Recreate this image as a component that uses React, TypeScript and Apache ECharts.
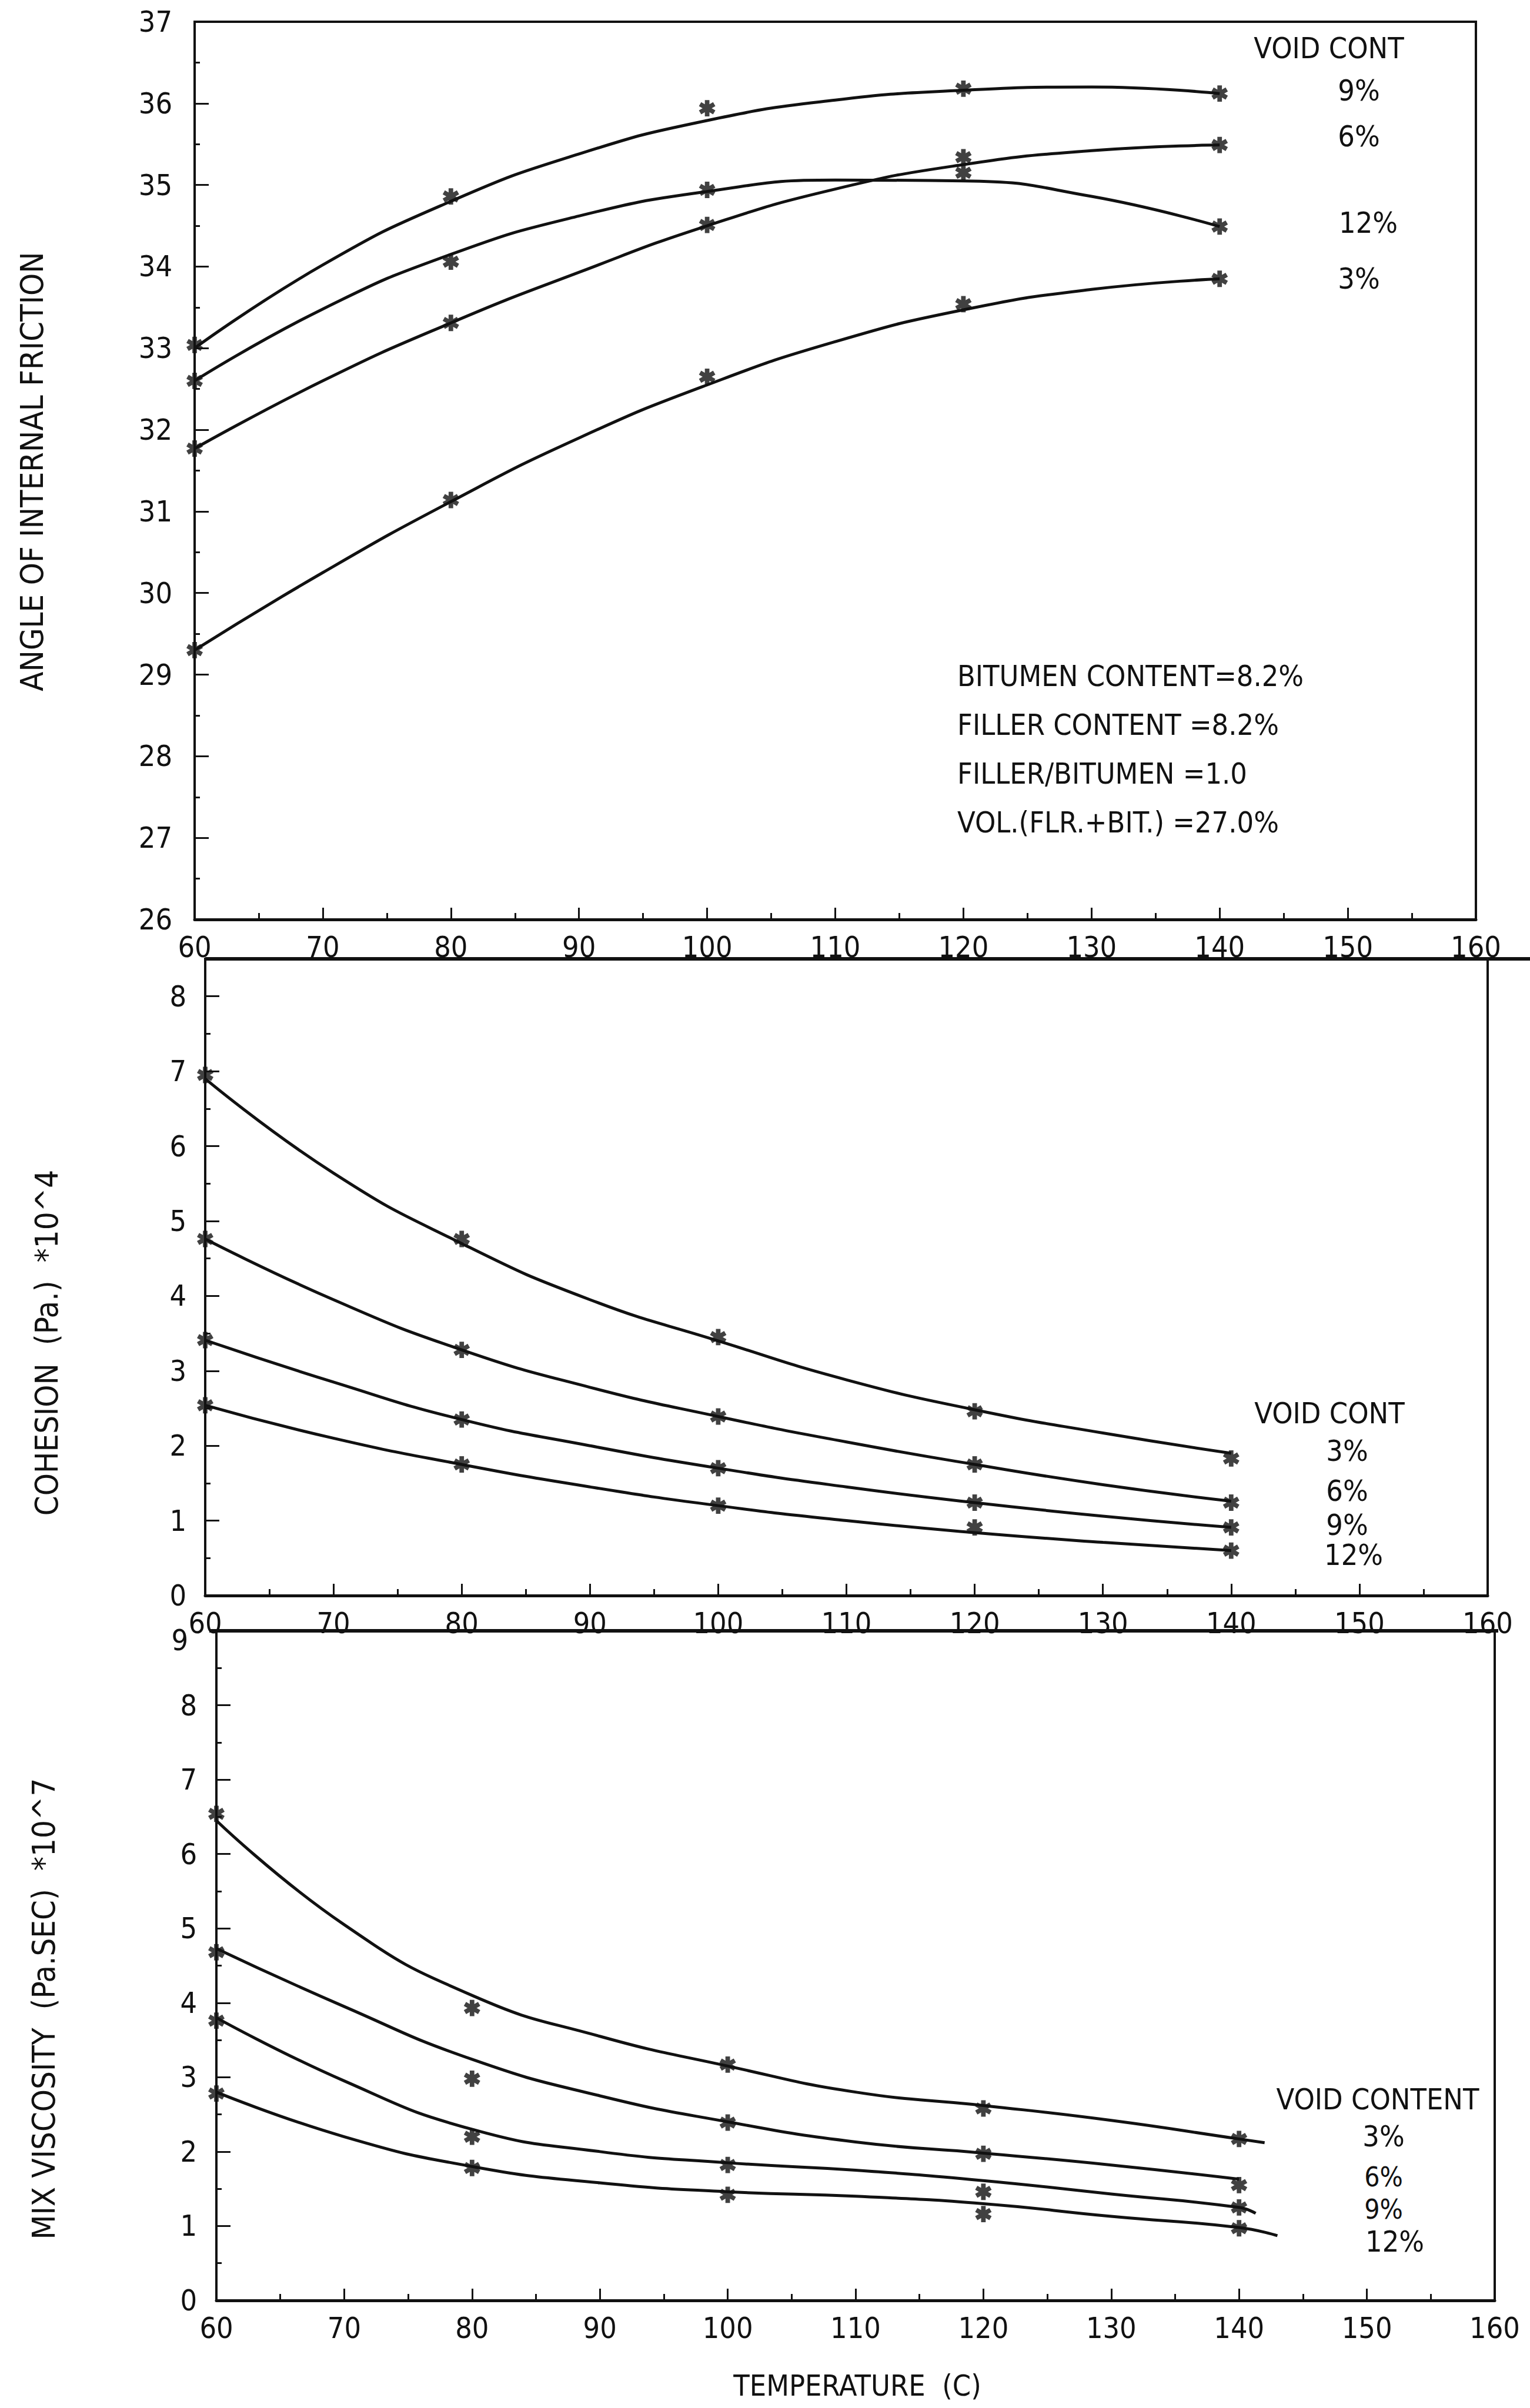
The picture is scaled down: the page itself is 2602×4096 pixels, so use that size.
import React, { useEffect, useRef } from "react";
import * as echarts from "echarts";

const W = 2602;
const H = 4096;
const INK = "#111111";
const FONT = "'Liberation Sans Narrow', 'DejaVu Sans Condensed', 'Liberation Sans', sans-serif";

// Temperatures (C) at which the mixes were tested
const TEST_TEMPS = [60, 80, 100, 120, 140];
// Temperatures at which the fitted curves are sampled
const FIT_TEMPS = [60, 70, 80, 90, 100, 110, 120, 130, 140];

// Angle of internal friction (deg): measured points
const FRICTION_3 = [29.3, 31.14, 32.65, 33.54, 33.85];
const FRICTION_6 = [31.77, 33.31, 34.51, 35.34, 35.49];
const FRICTION_9 = [33.04, 34.86, 35.94, 36.18, 36.12];
const FRICTION_12 = [32.6, 34.06, 34.94, 35.15, 34.49];
// Angle of internal friction: fitted curves
const FRICTION_FIT_3 = [29.3, 30.25, 31.12, 31.9, 32.55, 33.08, 33.47, 33.72, 33.85];
const FRICTION_FIT_6 = [31.77, 32.6, 33.31, 33.93, 34.5, 34.95, 35.25, 35.42, 35.49];
const FRICTION_FIT_9 = [33.0, 34.02, 34.8, 35.38, 35.79, 36.04, 36.16, 36.2, 36.12];
const FRICTION_FIT_12 = [32.6, 33.48, 34.15, 34.62, 34.92, 35.06, 35.05, 34.86, 34.49];

// Cohesion (Pa) * 10^4: measured points
const COHESION_3 = [6.95, 4.76, 3.45, 2.46, 1.83];
const COHESION_6 = [4.76, 3.28, 2.39, 1.75, 1.24];
const COHESION_9 = [3.41, 2.35, 1.7, 1.24, 0.91];
const COHESION_12 = [2.54, 1.75, 1.2, 0.91, 0.6];
// Cohesion: fitted curves
const COHESION_FIT_3 = [6.9, 5.64, 4.7, 3.95, 3.4, 2.88, 2.48, 2.17, 1.9];
const COHESION_FIT_6 = [4.76, 3.95, 3.28, 2.78, 2.39, 2.05, 1.75, 1.48, 1.26];
const COHESION_FIT_9 = [3.41, 2.85, 2.35, 2.0, 1.7, 1.45, 1.24, 1.06, 0.91];
const COHESION_FIT_12 = [2.54, 2.1, 1.75, 1.45, 1.2, 1.0, 0.84, 0.71, 0.6];

// Mix viscosity (Pa.sec) * 10^7: measured points
const VISCOSITY_3 = [6.54, 3.93, 3.17, 2.58, 2.17];
const VISCOSITY_6 = [4.68, 2.98, 2.39, 1.97, 1.55];
const VISCOSITY_9 = [3.76, 2.2, 1.82, 1.46, 1.25];
const VISCOSITY_12 = [2.78, 1.78, 1.42, 1.16, 0.97];
// Mix viscosity: fitted curves (each runs a little past 140 C)
const VISC_FIT_T_3 = [60, 70, 80, 90, 100, 110, 120, 130, 140, 142];
const VISC_FIT_3 = [6.45, 5.05, 4.1, 3.55, 3.15, 2.8, 2.62, 2.42, 2.17, 2.12];
const VISC_FIT_T_6 = [60, 70, 80, 90, 100, 110, 120, 130, 140];
const VISC_FIT_6 = [4.73, 3.95, 3.24, 2.75, 2.4, 2.13, 1.98, 1.82, 1.63];
const VISC_FIT_T_9 = [60, 70, 80, 90, 100, 110, 120, 130, 140, 141.3];
const VISC_FIT_9 = [3.8, 2.95, 2.3, 2.0, 1.85, 1.75, 1.61, 1.43, 1.25, 1.17];
const VISC_FIT_T_12 = [60, 70, 80, 90, 100, 110, 120, 130, 140, 143];
const VISC_FIT_12 = [2.8, 2.2, 1.8, 1.58, 1.46, 1.4, 1.3, 1.13, 0.98, 0.87];

// Axis ranges
const X_MIN = 60;
const X_MAX = 160;
const FRICTION_RANGE = [26, 37];
const COHESION_RANGE = [0, 8.5];
const VISCOSITY_RANGE = [0, 9];

// Annotation text
const MIX_NOTES = [
  "BITUMEN CONTENT=8.2%",
  "FILLER CONTENT =8.2%",
  "FILLER/BITUMEN =1.0",
  "VOL.(FLR.+BIT.) =27.0%",
];

// Plot areas of the three stacked panels (px)
const PANELS = [
  { left: 331, top: 37, width: 2179, height: 1527 },
  { left: 349, top: 1631, width: 2181, height: 1083 },
  { left: 368, top: 2774, width: 2174, height: 1139 },
];

// Six-armed asterisk used for the test points
const STAR =
  "path://M-1.4 -5L1.4 -5L1.4 5L-1.4 5Z" +
  "M-3.63 -3.71L5.03 1.29L3.63 3.71L-5.03 -1.29Z" +
  "M5.03 -1.29L-3.63 3.71L-5.03 1.29L3.63 -3.71Z";

const pairs = (xs: number[], ys: number[]) => xs.map((x, i) => [x, ys[i]]);

function fitSeries(panel: number, xs: number[], ys: number[]) {
  return {
    type: "line",
    xAxisIndex: panel,
    yAxisIndex: panel,
    data: pairs(xs, ys),
    smooth: 0.5,
    showSymbol: false,
    silent: true,
    lineStyle: { color: INK, width: 5 },
    z: 3,
  };
}

function pointSeries(panel: number, ys: number[]) {
  return {
    type: "scatter",
    xAxisIndex: panel,
    yAxisIndex: panel,
    data: pairs(TEST_TEMPS, ys),
    symbol: STAR,
    symbolSize: 28,
    symbolKeepAspect: true,
    silent: true,
    itemStyle: { color: INK },
    z: 4,
  };
}

function xAxisFor(panel: number) {
  return {
    gridIndex: panel,
    type: "value",
    min: X_MIN,
    max: X_MAX,
    interval: 10,
    axisLine: { show: true, onZero: false, lineStyle: { color: INK, width: 5 } },
    axisTick: { show: true, inside: true, length: 20, lineStyle: { color: INK, width: 3 } },
    minorTick: { show: true, splitNumber: 2, length: 11, lineStyle: { color: INK, width: 3 } },
    axisLabel: { show: true, margin: 22, color: INK, fontSize: 50, fontFamily: FONT },
    splitLine: { show: false },
    minorSplitLine: { show: false },
  };
}

function yAxisFor(panel: number, range: number[], margin: number, hideMax: boolean) {
  return {
    gridIndex: panel,
    type: "value",
    min: range[0],
    max: range[1],
    interval: 1,
    axisLine: { show: true, onZero: false, lineStyle: { color: INK, width: 3 } },
    axisTick: { show: true, inside: true, length: 24, lineStyle: { color: INK, width: 3 } },
    minorTick: { show: true, splitNumber: 2, length: 9, lineStyle: { color: INK, width: 3 } },
    axisLabel: {
      show: true,
      margin,
      color: INK,
      fontSize: 50,
      fontFamily: FONT,
      showMaxLabel: !hideMax,
    },
    splitLine: { show: false },
    minorSplitLine: { show: false },
  };
}

function label(x: number, y: number, text: string, align = "center", size = 50) {
  return {
    type: "text",
    x,
    y,
    silent: true,
    style: {
      text,
      fill: INK,
      font: `${size}px ${FONT}`,
      align,
      verticalAlign: "middle",
    },
  };
}

function sideTitle(x: number, y: number, text: string) {
  return {
    type: "text",
    x,
    y,
    rotation: Math.PI / 2,
    silent: true,
    style: {
      text,
      fill: INK,
      font: `54px ${FONT}`,
      align: "center",
      verticalAlign: "middle",
    },
  };
}

export default function App() {
  const ref = useRef<HTMLDivElement>(null);

  useEffect(() => {
    document.body.style.margin = "0";
    if (!ref.current) return;
    const chart = echarts.init(ref.current, undefined, { renderer: "svg", width: W, height: H });

    const grids = PANELS.map((p) => ({
      left: p.left,
      top: p.top,
      width: p.width,
      height: p.height,
      containLabel: false,
      outerBoundsMode: "none",
      show: true,
      borderColor: INK,
      borderWidth: 4,
      backgroundColor: "transparent",
    }));

    const p2 = PANELS[1];
    const p3 = PANELS[2];

    const graphics = [
      // heavy rules across the tops of the lower panels
      {
        type: "line",
        silent: true,
        shape: { x1: p2.left, y1: p2.top, x2: W, y2: p2.top },
        style: { stroke: INK, lineWidth: 6 },
      },
      {
        type: "line",
        silent: true,
        shape: { x1: p3.left - 12, y1: p3.top, x2: p3.left + p3.width + 6, y2: p3.top },
        style: { stroke: INK, lineWidth: 6 },
      },
      // top value of the viscosity axis, tucked under the cohesion "60"
      label(p3.left - 48, p3.top + 16, String(VISCOSITY_RANGE[1]), "right"),
      // axis titles
      sideTitle(54, 802, "ANGLE OF INTERNAL FRICTION"),
      sideTitle(79, 2284, "COHESION  (Pa.)  *10^4"),
      sideTitle(74, 3417, "MIX VISCOSITY  (Pa.SEC)  *10^7"),
      label(1458, 4058, "TEMPERATURE  (C)"),
      // legend, friction panel
      label(2260, 82, "VOID CONT"),
      label(2311, 154, "9%"),
      label(2311, 232, "6%"),
      label(2327, 379, "12%"),
      label(2311, 474, "3%"),
      // mix description
      ...MIX_NOTES.map((t, i) => label(1628, 1150 + i * 83, t, "left")),
      // legend, cohesion panel
      label(2261, 2404, "VOID CONT"),
      label(2291, 2468, "3%"),
      label(2291, 2536, "6%"),
      label(2291, 2594, "9%"),
      label(2302, 2645, "12%"),
      // legend, viscosity panel
      label(2343, 3571, "VOID CONTENT"),
      label(2353, 3634, "3%"),
      label(2353, 3703, "6%", "center", 46),
      label(2353, 3758, "9%", "center", 46),
      label(2372, 3813, "12%"),
    ];

    chart.setOption({
      animation: false,
      backgroundColor: "#ffffff",
      grid: grids,
      xAxis: [xAxisFor(0), xAxisFor(1), xAxisFor(2)],
      yAxis: [
        yAxisFor(0, FRICTION_RANGE, 38, false),
        yAxisFor(1, COHESION_RANGE, 32, true),
        yAxisFor(2, VISCOSITY_RANGE, 33, true),
      ],
      series: [
        fitSeries(0, FIT_TEMPS, FRICTION_FIT_3),
        fitSeries(0, FIT_TEMPS, FRICTION_FIT_6),
        fitSeries(0, FIT_TEMPS, FRICTION_FIT_9),
        fitSeries(0, FIT_TEMPS, FRICTION_FIT_12),
        pointSeries(0, FRICTION_3),
        pointSeries(0, FRICTION_6),
        pointSeries(0, FRICTION_9),
        pointSeries(0, FRICTION_12),
        fitSeries(1, FIT_TEMPS, COHESION_FIT_3),
        fitSeries(1, FIT_TEMPS, COHESION_FIT_6),
        fitSeries(1, FIT_TEMPS, COHESION_FIT_9),
        fitSeries(1, FIT_TEMPS, COHESION_FIT_12),
        pointSeries(1, COHESION_3),
        pointSeries(1, COHESION_6),
        pointSeries(1, COHESION_9),
        pointSeries(1, COHESION_12),
        fitSeries(2, VISC_FIT_T_3, VISC_FIT_3),
        fitSeries(2, VISC_FIT_T_6, VISC_FIT_6),
        fitSeries(2, VISC_FIT_T_9, VISC_FIT_9),
        fitSeries(2, VISC_FIT_T_12, VISC_FIT_12),
        pointSeries(2, VISCOSITY_3),
        pointSeries(2, VISCOSITY_6),
        pointSeries(2, VISCOSITY_9),
        pointSeries(2, VISCOSITY_12),
      ],
      graphic: graphics,
    });

    return () => chart.dispose();
  }, []);

  return <div ref={ref} style={{ width: W, height: H, background: "#ffffff" }} />;
}
